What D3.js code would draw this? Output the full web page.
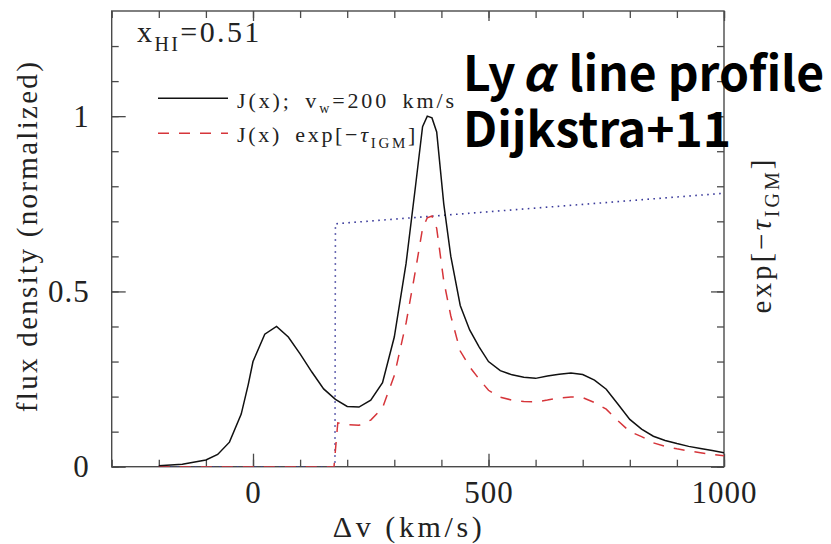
<!DOCTYPE html>
<html>
<head>
<meta charset="utf-8">
<script src="https://cdn.jsdelivr.net/npm/d3@7"></script>
<style>
  body { margin: 0; background: white; }
  svg { display: block; }
  .serif { font-family: "Liberation Serif", "DejaVu Serif", serif; fill: #222; }
</style>
</head>
<body>
<svg id="chart"></svg>
<script>
// J(x) line profile, v_w = 200 km/s
const vJ = [-200, -150, -100, -75, -50, -25, -10, 0, 25, 50, 75, 100, 125, 150, 175, 200, 225, 250, 275, 300,
  325, 345, 360, 370, 380, 390, 405, 420, 440, 460, 480, 500, 525, 550, 575, 600, 625, 650, 675, 700,
  725, 750, 775, 800, 825, 850, 875, 900, 925, 950, 975, 1000];
const fluxJ = [0.003, 0.007, 0.019, 0.035, 0.07, 0.15, 0.235, 0.30, 0.378, 0.40, 0.37, 0.322, 0.27, 0.222, 0.192, 0.172, 0.17, 0.19, 0.24, 0.37,
  0.58, 0.80, 0.97, 1.0, 0.995, 0.955, 0.75, 0.60, 0.46, 0.39, 0.342, 0.30, 0.274, 0.262, 0.255, 0.252, 0.259, 0.264, 0.267, 0.263,
  0.247, 0.221, 0.178, 0.135, 0.107, 0.087, 0.075, 0.066, 0.058, 0.052, 0.046, 0.04];

// J(x) exp[-tau_IGM]
const vObs = [-200, 172, 180, 200, 225, 250, 275, 300, 325, 345, 360, 370, 380, 390, 405, 420, 440, 460, 480, 500,
  525, 550, 575, 600, 625, 650, 675, 700, 725, 750, 775, 800, 825, 850, 875, 900, 925, 950, 975, 1000];
const fluxObs = [0, 0, 0.125, 0.12, 0.118, 0.133, 0.168, 0.26, 0.41, 0.56, 0.68, 0.71, 0.715, 0.68, 0.53, 0.43, 0.33, 0.285, 0.25, 0.218,
  0.198, 0.19, 0.186, 0.185, 0.19, 0.196, 0.199, 0.197, 0.183, 0.164, 0.131, 0.1, 0.086, 0.068, 0.058, 0.051, 0.045, 0.04, 0.035, 0.031];

// exp[-tau_IGM] transmission
const vTau = [-200, 174, 175, 1000];
const transTau = [0, 0, 0.693, 0.78];

const xMajor = [0, 500, 1000];
const yMajor = [0, 0.5, 1];
const yTickLabels = ["0", "0.5", "1"];

const w = 831, h = 544;
const padLeft = 111.7, padRight = 724, padTop = 11, padBottom = 466.7;

const svg = d3.select("#chart").attr("width", w).attr("height", h);

const xScale = d3.scaleLinear().domain([-300, 1000]).range([padLeft, padRight]);
const yScale = d3.scaleLinear().domain([0, 1.3]).range([padBottom, padTop]);

svg.append("clipPath").attr("id", "clip")
   .append("rect").attr("x", padLeft).attr("y", padTop).attr("width", padRight - padLeft).attr("height", padBottom - padTop);

const minorX = d3.range(-300, 1001, 100);
const minorY = d3.range(0, 13).map(d => d / 10);

function styleAxis(g) {
  g.select(".domain").remove();
  g.selectAll("line").attr("stroke", "#4a4a4a").attr("stroke-width", 1.3);
  g.selectAll("text").attr("class", "serif").style("font-size", "31px").style("letter-spacing", "1px").attr("fill", "#222");
}

// bottom
svg.append("g").attr("transform", `translate(0,${padBottom})`)
   .call(d3.axisBottom(xScale).tickValues(minorX).tickSize(-7).tickFormat(""))
   .call(styleAxis);
svg.append("g").attr("transform", `translate(0,${padBottom})`)
   .call(d3.axisBottom(xScale).tickValues(xMajor).tickSize(-13).tickPadding(14).tickFormat(d3.format("d")))
   .call(styleAxis);
// top
svg.append("g").attr("transform", `translate(0,${padTop})`)
   .call(d3.axisTop(xScale).tickValues(minorX).tickSize(-7).tickFormat(""))
   .call(styleAxis);
svg.append("g").attr("transform", `translate(0,${padTop})`)
   .call(d3.axisTop(xScale).tickValues(xMajor).tickSize(-10).tickFormat(""))
   .call(styleAxis);
// left
svg.append("g").attr("transform", `translate(${padLeft},0)`)
   .call(d3.axisLeft(yScale).tickValues(minorY).tickSize(-7).tickFormat(""))
   .call(styleAxis);
svg.append("g").attr("transform", `translate(${padLeft},0)`)
   .call(d3.axisLeft(yScale).tickValues(yMajor).tickSize(-14).tickPadding(22).tickFormat((d, i) => yTickLabels[i]))
   .call(styleAxis);
// right
svg.append("g").attr("transform", `translate(${padRight},0)`)
   .call(d3.axisRight(yScale).tickValues(minorY).tickSize(-7).tickFormat(""))
   .call(styleAxis);
svg.append("g").attr("transform", `translate(${padRight},0)`)
   .call(d3.axisRight(yScale).tickValues(yMajor).tickSize(-13).tickFormat(""))
   .call(styleAxis);

// frame
svg.append("rect").attr("x", padLeft).attr("y", padTop).attr("width", padRight - padLeft).attr("height", padBottom - padTop)
   .attr("fill", "none").attr("stroke", "#4a4a4a").attr("stroke-width", 1.4);

const line = d3.line().x(d => xScale(d[0])).y(d => yScale(d[1]));
const plot = svg.append("g").attr("clip-path", "url(#clip)");

plot.append("path").datum(d3.zip(vTau, transTau)).attr("d", line)
    .attr("fill", "none").attr("stroke", "#3b3b9b").attr("stroke-width", 1.6)
    .attr("stroke-dasharray", "1.6,4.4");
plot.append("path").datum(d3.zip(vObs, fluxObs)).attr("d", line)
    .attr("fill", "none").attr("stroke", "#d6353a").attr("stroke-width", 1.5)
    .attr("stroke-dasharray", "11,10");
plot.append("path").datum(d3.zip(vJ, fluxJ)).attr("d", line)
    .attr("fill", "none").attr("stroke", "#111").attr("stroke-width", 1.5);

// legend
const legX1 = 158, legX2 = 228;
svg.append("line").attr("x1", legX1).attr("x2", legX2).attr("y1", 98.3).attr("y2", 98.3)
   .attr("stroke", "#111").attr("stroke-width", 1.5);
svg.append("line").attr("x1", legX1).attr("x2", legX2).attr("y1", 133.3).attr("y2", 133.3)
   .attr("stroke", "#d6353a").attr("stroke-width", 1.5).attr("stroke-dasharray", "11,10");

const leg1 = svg.append("text").attr("class", "serif").attr("x", 237).attr("y", 108)
   .style("font-size", "22px").style("letter-spacing", "2.9px").style("word-spacing", "5px");
leg1.append("tspan").text("J(x);  v");
leg1.append("tspan").attr("dy", 5).style("font-size", "14px").text("w");
leg1.append("tspan").attr("dy", -5).text("=200  km/s");

const leg2 = svg.append("text").attr("class", "serif").attr("x", 237).attr("y", 142)
   .style("font-size", "22px").style("letter-spacing", "2.7px").style("word-spacing", "5px");
leg2.append("tspan").text("J(x)  exp[\u2212");
leg2.append("tspan").style("font-style", "italic").text("\u03c4");
leg2.append("tspan").attr("dy", 6).style("font-size", "15px").text("IGM");
leg2.append("tspan").attr("dy", -6).text("]");

// x_HI
const xhi = svg.append("text").attr("class", "serif").attr("x", 137).attr("y", 42)
   .style("font-size", "30px").style("letter-spacing", "2.4px");
xhi.append("tspan").text("x");
xhi.append("tspan").attr("dy", 9).style("font-size", "20px").text("HI");
xhi.append("tspan").attr("dy", -9).text("=0.51");

// axis titles
svg.append("text").attr("class", "serif").attr("x", 409).attr("y", 537)
   .attr("text-anchor", "middle").style("font-size", "30px").style("letter-spacing", "3.6px")
   .text("\u0394v  (km/s)");

svg.append("text").attr("class", "serif")
   .attr("transform", "translate(37,236) rotate(-90)")
   .attr("text-anchor", "middle").style("font-size", "29px").style("letter-spacing", "2.3px")
   .text("flux density (normalized)");

const rlab = svg.append("text").attr("class", "serif")
   .attr("transform", "translate(771,235) rotate(-90)")
   .attr("text-anchor", "middle").style("font-size", "29px").style("letter-spacing", "3px");
rlab.append("tspan").text("exp[\u2212");
rlab.append("tspan").style("font-style", "italic").text("\u03c4");
rlab.append("tspan").attr("dy", 8).style("font-size", "20px").text("IGM");
rlab.append("tspan").attr("dy", -8).text("]");

// overlay title
const big = svg.append("text").style("font-family", "'Noto Sans CJK JP', 'Noto Sans', sans-serif")
   .style("font-weight", "bold").style("font-size", "48px").attr("fill", "#000");
big.append("tspan").attr("x", 463).attr("y", 91).text("Ly");
big.append("tspan").style("font-style", "italic").attr("dx", 6).text("\u03b1");
big.append("tspan").attr("dx", 4).text(" line profile");
big.append("tspan").attr("x", 463).attr("y", 147).text("Dijkstra+11");
</script>
</body>
</html>
